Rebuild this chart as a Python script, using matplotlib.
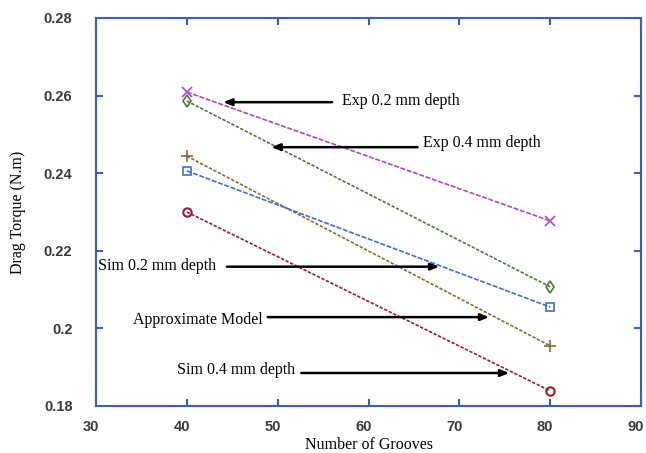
import matplotlib
matplotlib.use("Agg")
import matplotlib.pyplot as plt
from matplotlib.transforms import ScaledTranslation

# grooves vs drag torque
grooves = [40, 80]
exp_02 = [0.2609, 0.2277]
exp_04 = [0.2586, 0.2107]
approx = [0.2444, 0.1955]
sim_02 = [0.2406, 0.2055]
sim_04 = [0.2300, 0.1839]

# annotation labels: (text, text x, text y, tail x, tip x, arrow y)
notes = [
    ("Exp 0.2 mm depth", 57.1, 0.2586, 56.0, 44.0, 0.2583),
    ("Exp 0.4 mm depth", 66.0, 0.2478, 65.4, 49.3, 0.2467),
    ("Sim 0.2 mm depth", 43.2, 0.2161, 44.4, 67.8, 0.2159),
    ("Approximate Model", 48.35, 0.2022, 48.9, 73.3, 0.2029),
    ("Sim 0.4 mm depth", 51.9, 0.1893, 52.6, 75.5, 0.1885),
]

spine_col = "#3a5cc8"
serif = ["Liberation Serif", "DejaVu Serif"]

fig = plt.figure(figsize=(6.46, 4.53), dpi=100)
ax = fig.add_axes([0.1486, 0.1038, 0.8437, 0.8565])

ax.plot(grooves, exp_02, color="#b048c8", ls=(0, (3, 1)), lw=1.2,
        marker="x", ms=7, mew=1.2)
ax.plot(grooves, exp_04, color="#4a7a3a", ls=(0, (2, 1)), lw=1.2,
        marker="d", ms=6, mfc="none", mew=1.2)
ax.plot(grooves, approx, color="#8c6a32", ls=(0, (2, 1)), lw=1.2,
        marker="+", ms=8, mew=1.2)
ax.plot(grooves, sim_02, color="#3a6ed8", ls=(0, (3, 1)), lw=1.2,
        marker="s", ms=6, mfc="none", mew=1.2)
ax.plot(grooves, sim_04, color="#a01830", ls=(0, (2, 1)), lw=1.2,
        marker="o", ms=6, mfc="none", mew=1.5)

for txt, tx, ty, tail, tip, ay in notes:
    going_left = tip < tx
    ax.text(tx, ty, txt, ha="left" if going_left else "right", va="center",
            fontsize=11.5, family=serif)
    ax.annotate("", xy=(tip, ay), xytext=(tail, ay),
                arrowprops=dict(arrowstyle="-|>,head_length=0.5,head_width=0.2",
                                color="black", lw=1.8, shrinkA=0, shrinkB=0))

ax.set_xlim(30, 90)
ax.set_ylim(0.18, 0.28)
ax.set_xticks([30, 40, 50, 60, 70, 80, 90])
ax.set_yticks([0.18, 0.2, 0.22, 0.24, 0.26, 0.28])
ax.set_yticklabels(["0.18", "0.2", "0.22", "0.24", "0.26", "0.28"])

for s in ax.spines.values():
    s.set_color(spine_col)
    s.set_linewidth(1.5)
ax.tick_params(direction="in", length=5, width=1.5, color=spine_col,
               top=True, right=True, labelsize=10.5, labelcolor="#3a3a3a")
ax.tick_params(axis="y", pad=17)
ax.tick_params(axis="x", pad=10)
shift = ScaledTranslation(-5 / 100, 0, fig.dpi_scale_trans)
for lab in ax.get_xticklabels():
    lab.set_transform(lab.get_transform() + shift)
for lab in ax.get_xticklabels() + ax.get_yticklabels():
    lab.set_family(["Liberation Sans", "DejaVu Sans"])
    lab.set_fontweight("bold")

ax.set_xlabel("Number of Grooves", fontsize=11.5, family=serif, labelpad=2)
ax.set_ylabel("Drag Torque (N.m)", fontsize=11.5, family=serif, labelpad=13)

fig.savefig("out.png", dpi=100)
